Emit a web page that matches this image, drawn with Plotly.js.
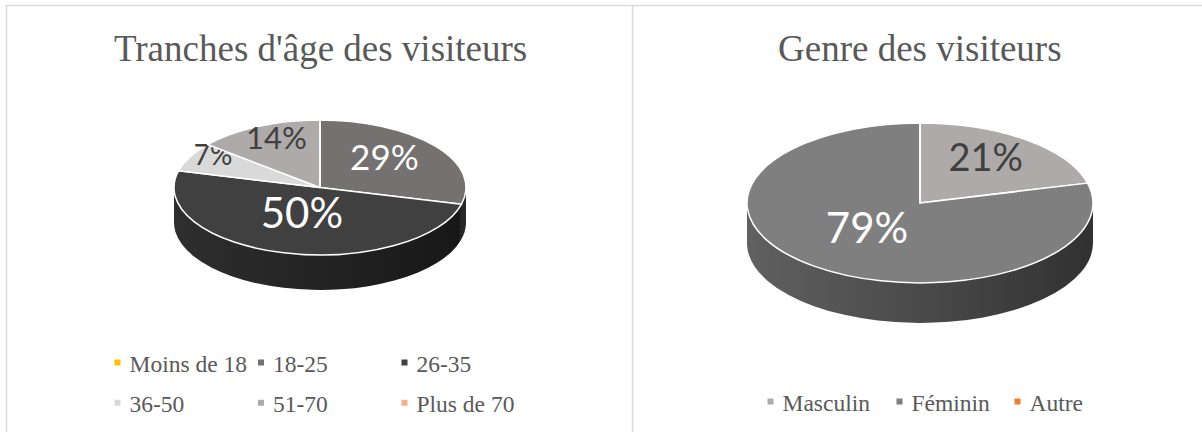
<!DOCTYPE html>
<html>
<head>
<meta charset="utf-8">
<script src="https://cdn.plot.ly/plotly-3.0.1.min.js"></script>
<style>
  html, body { margin: 0; padding: 0; background: #ffffff; }
  #chart { width: 1202px; height: 432px; }
</style>
</head>
<body>
<div id="chart"></div>
<script>
// ---- data ----
const ageTitle = "Tranches d'âge des visiteurs";
const ageLabels = ['Moins de 18', '18-25', '26-35', '36-50', '51-70', 'Plus de 70'];
const ageValues = [0, 29, 50, 7, 14, 0];
const ageColors = ['#ffc000', '#767171', '#404040', '#d9d9d9', '#aeaaaa', '#f4b183'];
const ageSideColors = ['#7f6000', '#3c3939', '#232323', '#8c8c8c', '#6e6b6b', '#9a6a4a'];
const ageTextColors = ['#404040', '#ffffff', '#ffffff', '#404040', '#404040', '#404040'];
const ageTextSizes = [30, 35, 42, 28, 31, 30];

const genreTitle = 'Genre des visiteurs';
const genreLabels = ['Masculin', 'Féminin', 'Autre'];
const genreValues = [21, 79, 0];
const genreColors = ['#aeaaaa', '#7f7f7f', '#ed7d31'];
const genreSideColors = ['#6e6b6b', '#4a4a4a', '#8a4a1d'];
const genreTextColors = ['#404040', '#ffffff', '#404040'];
const genreTextSizes = [38, 42, 30];

// ---- layout constants ----
const W = 1202, H = 432;
const SQUASH = 0.462;          // vertical flattening of the pies (3D look)
const SIDE_LAYERS = 8;
const LABEL_LIFT = 8;          // perspective: labels sit a little higher
const LEGEND_SYMBOL_SHIFT = 8; // tighter symbol-to-text gap
const serif = 'Liberation Serif, Times New Roman, serif';
const sans = 'Lato, Open Sans, sans-serif';
const textGrey = '#595959';

function pxX(x) { return x / W; }
function pxY(y) { return 1 - y / H; }

// pie geometry (centre in px, radius in px, side thickness in px)
const agePie = { cx: 320, cy: 187.5, r: 146, thick: 35 };
const genrePie = { cx: 920, cy: 203, r: 173, thick: 40 };

function domainFor(p, shift) {
  return {
    x: [pxX(p.cx - p.r), pxX(p.cx + p.r)],
    y: [pxY(p.cy + shift + p.r), pxY(p.cy + shift - p.r)]
  };
}

function pieTraces(p, labels, values, colors, sideColors, textColors, textSizes) {
  const traces = [];
  for (let k = SIDE_LAYERS; k >= 1; k--) {
    traces.push({
      type: 'pie', labels: labels, values: values, sort: false,
      direction: 'clockwise', rotation: 0, showlegend: false,
      domain: domainFor(p, p.thick * k / SIDE_LAYERS),
      marker: { colors: sideColors, line: { width: 0 } },
      textinfo: 'none', hoverinfo: 'skip',
      meta: 'side'
    });
  }
  traces.push({
    type: 'pie', labels: labels, values: values, sort: false,
    direction: 'clockwise', rotation: 0, showlegend: false,
    domain: domainFor(p, 0),
    marker: { colors: colors, line: { color: '#ffffff', width: 1.5 } },
    text: values.map(v => v > 0 ? v + '%' : ''),
    textinfo: 'text', textposition: 'inside', insidetextorientation: 'horizontal',
    textfont: { family: sans, color: textColors, size: textSizes },
    hoverinfo: 'skip',
    meta: 'top'
  });
  return traces;
}

function legendTraces(labels, colors, legendId, widths) {
  return labels.map((lab, i) => {
    const t = {
      type: 'scatter', mode: 'markers', x: [null], y: [null],
      name: lab, legend: legendId, showlegend: true, hoverinfo: 'skip',
      marker: { symbol: 'square', size: 6, color: colors[i] }
    };
    if (widths) t.legendwidth = widths[i];
    return t;
  });
}

const data = []
  .concat(pieTraces(agePie, ageLabels, ageValues, ageColors, ageSideColors, ageTextColors, ageTextSizes))
  .concat(pieTraces(genrePie, genreLabels, genreValues, genreColors, genreSideColors, genreTextColors, genreTextSizes))
  .concat(legendTraces(ageLabels.slice(0, 3), ageColors.slice(0, 3), 'legend'))
  .concat(legendTraces(ageLabels.slice(3), ageColors.slice(3), 'legend2'))
  .concat(legendTraces(genreLabels, genreColors, 'legend3', [84, 73, 60]));

const legendBase = {
  orientation: 'h', xanchor: 'left', yanchor: 'middle',
  bgcolor: 'rgba(0,0,0,0)', borderwidth: 0,
  font: { family: serif, size: 23.5, color: textGrey },
  itemclick: false, itemdoubleclick: false, traceorder: 'normal'
};

const gridLine = { color: '#d9d9d9', width: 1.5 };

const layout = {
  width: W, height: H,
  margin: { l: 0, r: 0, t: 0, b: 0, pad: 0 },
  paper_bgcolor: '#ffffff', plot_bgcolor: '#ffffff',
  xaxis: { visible: false, fixedrange: true },
  yaxis: { visible: false, fixedrange: true },
  showlegend: true,
  legend: Object.assign({}, legendBase, { x: pxX(89.5), y: pxY(362.7), entrywidth: 98.5 }),
  legend2: Object.assign({}, legendBase, { x: pxX(89.5), y: pxY(403), entrywidth: 98.5 }),
  legend3: Object.assign({}, legendBase, { x: pxX(742.5), y: pxY(401.7) }),
  annotations: [
    { text: ageTitle, xref: 'paper', yref: 'paper', x: pxX(320), y: pxY(48), xanchor: 'center', yanchor: 'middle',
      showarrow: false, font: { family: serif, size: 37, color: textGrey } },
    { text: genreTitle, xref: 'paper', yref: 'paper', x: pxX(920), y: pxY(48), xanchor: 'center', yanchor: 'middle',
      showarrow: false, font: { family: serif, size: 37, color: textGrey } }
  ],
  shapes: [
    { type: 'line', xref: 'paper', yref: 'paper', x0: pxX(5.5), x1: 1, y0: pxY(5.5), y1: pxY(5.5), line: gridLine },
    { type: 'line', xref: 'paper', yref: 'paper', x0: pxX(6.5), x1: pxX(6.5), y0: 0, y1: pxY(5.5), line: gridLine },
    { type: 'line', xref: 'paper', yref: 'paper', x0: pxX(632.5), x1: pxX(632.5), y0: 0, y1: pxY(5.5), line: gridLine }
  ]
};

// colour helpers for the shaded cylinder side
function shade(hex, f) {
  const n = parseInt(hex.slice(1), 16);
  const c = [(n >> 16) & 255, (n >> 8) & 255, n & 255].map(v => Math.max(0, Math.min(255, Math.round(v * f))));
  return 'rgb(' + c.join(',') + ')';
}
function toHex(col) {
  if (col[0] === '#') return col;
  const m = col.match(/\d+/g).map(Number);
  return '#' + m.slice(0, 3).map(v => v.toString(16).padStart(2, '0')).join('');
}

Plotly.newPlot('chart', data, layout, { staticPlot: true, displayModeBar: false }).then(gd => {
  const svgNS = 'http://www.w3.org/2000/svg';
  const mainSvg = gd.querySelector('svg.main-svg');
  let defs = mainSvg.querySelector('defs');
  if (!defs) { defs = document.createElementNS(svgNS, 'defs'); mainSvg.insertBefore(defs, mainSvg.firstChild); }
  let gradCount = 0;
  function gradientFor(hex, x0, x1) {
    const id = 'sideGrad' + (gradCount++);
    const lg = document.createElementNS(svgNS, 'linearGradient');
    lg.setAttribute('id', id);
    lg.setAttribute('gradientUnits', 'userSpaceOnUse');
    lg.setAttribute('x1', x0); lg.setAttribute('x2', x1);
    lg.setAttribute('y1', 0); lg.setAttribute('y2', 0);
    [[0, 1.3], [0.5, 1.0], [1, 0.66]].forEach(([o, f]) => {
      const st = document.createElementNS(svgNS, 'stop');
      st.setAttribute('offset', o);
      st.setAttribute('stop-color', shade(hex, f));
      lg.appendChild(st);
    });
    defs.appendChild(lg);
    return 'url(#' + id + ')';
  }

  gd.querySelectorAll('.pielayer g.trace').forEach(g => {
    const cd = g.__data__;
    const cd0 = cd && cd[0];
    let cy = cd0 && cd0.cy;
    if (typeof cy !== 'number') {
      const bb = g.getBBox();
      cy = bb.y + bb.height / 2;
    }
    g.setAttribute('transform', 'translate(0,' + (cy * (1 - SQUASH)) + ') scale(1,' + SQUASH + ')');
    g.querySelectorAll('path').forEach(p => { p.style.vectorEffect = 'non-scaling-stroke'; });

    const isSide = cd0 && cd0.trace && cd0.trace.meta === 'side';
    if (isSide && typeof cd0.cx === 'number') {
      const x0 = cd0.cx - cd0.r, x1 = cd0.cx + cd0.r;
      g.querySelectorAll('path.surface').forEach(p => {
        const f = p.style.fill;
        if (f && f !== 'none') p.style.fill = gradientFor(toHex(f), x0, x1);
      });
    }

    g.querySelectorAll('g.slicetext').forEach(t => {
      const bb = t.getBBox();
      if (!bb.height) return;
      const c = bb.y + bb.height / 2;
      const lift = LABEL_LIFT / SQUASH;
      t.setAttribute('transform', 'translate(0,' + (c - lift) + ') scale(1,' + (1 / SQUASH) + ') translate(0,' + (-c) + ')');
    });
  });

  gd.querySelectorAll('g.legendpoints').forEach(el => {
    const t = el.getAttribute('transform') || '';
    el.setAttribute('transform', 'translate(' + LEGEND_SYMBOL_SHIFT + ',0) ' + t);
  });
});
</script>
</body>
</html>
